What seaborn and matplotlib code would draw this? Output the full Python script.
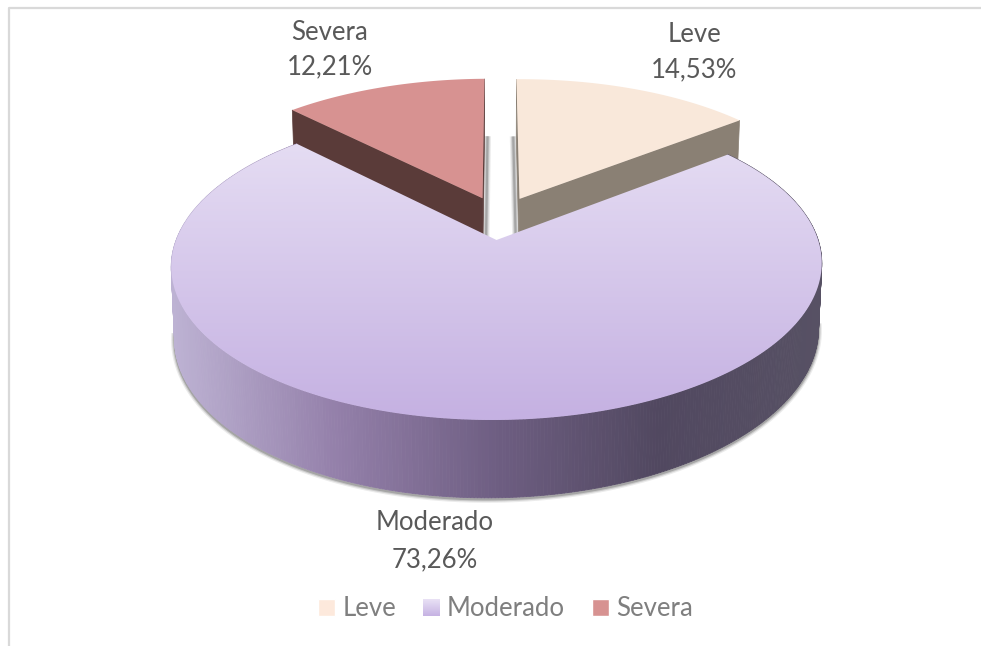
#!/usr/bin/env python3
"""
3D style pie chart: severity distribution (Leve / Moderado / Severa)
"""

import numpy as np
import matplotlib
matplotlib.use('Agg')
import matplotlib.pyplot as plt
import seaborn as sns
from matplotlib.collections import PolyCollection
from matplotlib.legend_handler import HandlerBase
from matplotlib.patches import Patch, Polygon, Rectangle

sns.set_theme(style="white")
plt.rcParams['font.family'] = ['Lato', 'DejaVu Sans']

# Data
categories = ['Leve', 'Moderado', 'Severa']
percentages = [14.53, 73.26, 12.21]

# Colours
LEVE_TOP = '#f9e8da'
LEVE_WALL = '#8a8074'
LEVE_SWATCH = '#fde9dc'
SEVERA_TOP = '#d79291'
SEVERA_WALL = '#5a3b39'
MOD_GRADIENT = sns.blend_palette(['#e9e2f5', '#c5b1e2'], 64)
MOD_WALL = sns.blend_palette(['#bdb2d3', '#9480aa', '#6e5e82', '#514860', '#575164'], as_cmap=True)
LABEL_COLOR = '#595959'
LEGEND_COLOR = '#7f7f7f'
BORDER = '#d9d9d9'

# Projection of the pie plane onto the picture (pixels)
CX, CY = 496.5, 240.0
RX, RY = 321.0, 151.0
PERSPECTIVE = 0.161
# Exploded slices are moved on the pie plane
OFFSETS = {'Leve': (0.075, -0.284), 'Moderado': (0.0, 0.0), 'Severa': (-0.0455, -0.29)}


def project(px, py, bottom=False):
    """Map pie plane coordinates to pixels, top or bottom face"""
    px, py = np.asarray(px, dtype=float), np.asarray(py, dtype=float)
    w = 1 - PERSPECTIVE * py
    u, v = RX * px / w, RY * py / w
    if bottom:
        return CX + 0.99 * u, CY + 1.06 * v + 67 - 0.015 * u
    return CX + u, CY + v - 0.006 * u


def slice_rim(start, end, offset, n=200):
    """Rim points of a slice, angles in degrees clockwise from the back"""
    a = np.radians(np.linspace(start, end, n))
    return np.sin(a) + offset[0], -np.cos(a) + offset[1]


def top_face(start, end, offset):
    rx, ry = slice_rim(start, end, offset)
    return np.column_stack(project(np.r_[offset[0], rx], np.r_[offset[1], ry]))


def radial_wall(angle, offset):
    """Quad for the flat cut side of a slice"""
    a = np.radians(angle)
    px = np.array([offset[0], np.sin(a) + offset[0]])
    py = np.array([offset[1], -np.cos(a) + offset[1]])
    tx, ty = project(px, py)
    bx, by = project(px, py, bottom=True)
    return np.column_stack([np.r_[tx, bx[::-1]], np.r_[ty, by[::-1]]])


def soft_shadow(ax, x, y, zorder=1):
    for lw, alpha in [(5.0, 0.10), (3.2, 0.18), (1.6, 0.28)]:
        ax.plot(x, y, color='#404040', lw=lw, alpha=alpha, zorder=zorder,
                solid_capstyle='butt')


class GradientHandler(HandlerBase):
    """Legend swatch with a vertical colour gradient"""

    def create_artists(self, legend, orig_handle, xdescent, ydescent, width, height, fontsize, trans):
        n = len(MOD_GRADIENT)
        parts = []
        for i, color in enumerate(MOD_GRADIENT):
            parts.append(Rectangle((-xdescent, -ydescent + height * (n - 1 - i) / n), width,
                                   height / n * 1.2, facecolor=color, edgecolor='none', transform=trans))
        return parts


def main():
    fig = plt.figure(figsize=(9.81, 6.46), dpi=100)
    ax = fig.add_axes([0, 0, 1, 1])
    ax.set_xlim(0, 981)
    ax.set_ylim(646, 0)
    ax.axis('off')

    # Chart frame, only top and left are in view
    ax.plot([9, 9, 981], [646, 7.5, 7.5], color=BORDER, lw=1.6, zorder=0)

    # Slice angles come from the values
    ends = np.cumsum(percentages) * 3.6
    starts = np.r_[0, ends[:-1]]
    angles = dict(zip(categories, zip(starts, ends)))

    # Leve slice
    off = OFFSETS['Leve']
    start, end = angles['Leve']
    wall = radial_wall(start, off)
    soft_shadow(ax, wall[[3, 2], 0] - 3, wall[[3, 2], 1])
    ax.add_patch(Polygon(wall, facecolor=LEVE_WALL, edgecolor=LEVE_WALL, lw=0.5, zorder=2))
    ax.add_patch(Polygon(radial_wall(end, off), facecolor=LEVE_WALL, edgecolor=LEVE_WALL, lw=0.5, zorder=2))
    ax.add_patch(Polygon(top_face(start, end, off), facecolor=LEVE_TOP, edgecolor='none', zorder=3))

    # Severa slice
    off = OFFSETS['Severa']
    start, end = angles['Severa']
    wall = radial_wall(end, off)
    soft_shadow(ax, wall[[3, 2], 0] + 3, wall[[3, 2], 1])
    ax.add_patch(Polygon(wall, facecolor=SEVERA_WALL, edgecolor=SEVERA_WALL, lw=0.5, zorder=2))
    ax.add_patch(Polygon(radial_wall(start, off), facecolor=SEVERA_WALL, edgecolor=SEVERA_WALL, lw=0.5, zorder=2))
    ax.add_patch(Polygon(top_face(start, end, off), facecolor=SEVERA_TOP, edgecolor='none', zorder=3))

    # Moderado slice: outer wall as small quads with a colour running over x
    off = OFFSETS['Moderado']
    start, end = angles['Moderado']
    rx, ry = slice_rim(start, end, off, n=500)
    tx, ty = project(rx, ry)
    bx, by = project(rx, ry, bottom=True)
    quads = [[(tx[i], ty[i]), (tx[i + 1], ty[i + 1]), (bx[i + 1], by[i + 1]), (bx[i], by[i])]
             for i in range(len(tx) - 1)]
    mid = (tx[:-1] + tx[1:]) / 2
    colors = MOD_WALL((mid - tx.min()) / (tx.max() - tx.min()))
    ax.add_collection(PolyCollection(quads, facecolors=colors, edgecolors=colors, linewidths=0.6, zorder=4))

    sx, sy = slice_rim(97, 263, off)
    bsx, bsy = project(sx, sy, bottom=True)
    soft_shadow(ax, bsx, bsy + 1.5)

    # Top face of Moderado with its vertical gradient
    face = top_face(start, end, off)
    grad = np.array(MOD_GRADIENT)[:, None, :]
    img = ax.imshow(grad, extent=(face[:, 0].min(), face[:, 0].max(), face[:, 1].max(), 105),
                    aspect='auto', interpolation='bilinear', zorder=5)
    clip = Polygon(face, transform=ax.transData, facecolor='none', edgecolor='none')
    ax.add_patch(clip)
    img.set_clip_path(clip)
    ax.set_xlim(0, 981)
    ax.set_ylim(646, 0)

    # Data labels
    label_xy = {'Leve': ((694, 34), (694, 70)),
                'Moderado': ((435, 523), (435, 560)),
                'Severa': ((330, 32), (330, 67))}
    for name, value in zip(categories, percentages):
        (x1, y1), (x2, y2) = label_xy[name]
        ax.text(x1, y1, name, ha='center', va='center', fontsize=LABEL_SIZE, color=LABEL_COLOR, zorder=6)
        ax.text(x2, y2, f"{value:.2f}".replace('.', ',') + '%', ha='center', va='center',
                fontsize=LABEL_SIZE, color=LABEL_COLOR, zorder=6)

    # Legend
    handles = [Patch(facecolor=LEVE_SWATCH), Patch(facecolor='#d7caeb'), Patch(facecolor=SEVERA_TOP)]
    ax.legend(handles, categories, ncol=3, loc='center', bbox_to_anchor=(505.5, 609),
              bbox_transform=ax.transData, frameon=False, fontsize=LABEL_SIZE,
              labelcolor=LEGEND_COLOR, handlelength=0.66, handleheight=0.66,
              handletextpad=0.27, columnspacing=1.05, borderpad=0, borderaxespad=0,
              handler_map={handles[1]: GradientHandler()})

    plt.savefig('out.png', dpi=100)
    plt.close()


LABEL_SIZE = 18.5

if __name__ == "__main__":
    main()
